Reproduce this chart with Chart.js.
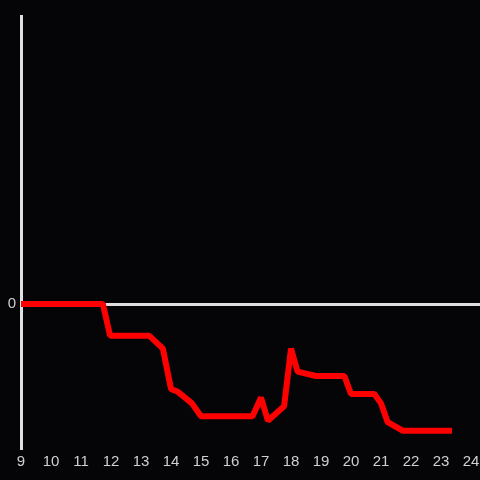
<!DOCTYPE html>
<html>
<head>
<meta charset="utf-8">
<script src="https://cdn.jsdelivr.net/npm/chart.js@4"></script>
<style>
  html, body { margin: 0; padding: 0; background: #050507; }
  #wrap { width: 480px; height: 480px; }
</style>
</head>
<body>
<div id="wrap"><canvas id="chart"></canvas></div>
<script>
// hour of day and level
const hours = [9.1, 11.73, 11.97, 13.27, 13.73, 14.0, 14.23, 14.7, 15.0, 16.72, 17.0, 17.23, 17.77, 18.0, 18.22, 18.83, 19.78, 20.0, 20.78, 21.0, 21.22, 21.72, 23.27];
const levels = [0, 0, -0.22, -0.22, -0.31, -0.59, -0.61, -0.69, -0.78, -0.78, -0.65, -0.81, -0.71, -0.31, -0.47, -0.5, -0.5, -0.625, -0.625, -0.69, -0.82, -0.88, -0.88];
const xTicks = [9, 10, 11, 12, 13, 14, 15, 16, 17, 18, 19, 20, 21, 22, 23, 24];
const yTicks = [0];

const points = hours.map((h, i) => ({ x: h, y: levels[i] }));

new Chart(document.getElementById("chart"), {
  type: "line",
  data: {
    datasets: [{
      data: points,
      borderColor: "#ff0000",
      borderWidth: 6,
      borderJoinStyle: "bevel",
      borderCapStyle: "square",
      pointRadius: 0,
      tension: 0,
      fill: false
    }]
  },
  options: {
    responsive: true,
    maintainAspectRatio: false,
    animation: false,
    layout: { padding: { top: 16, right: 0, left: 0, bottom: 0 } },
    plugins: { legend: { display: false }, tooltip: { enabled: false } },
    scales: {
      x: {
        type: "linear",
        min: 9,
        max: 24.3,
        afterBuildTicks: s => { s.ticks = xTicks.map(v => ({ value: v })); },
        ticks: {
          autoSkip: false,
          maxRotation: 0,
          padding: 5,
          color: "#d0d0d0",
          font: { family: "Liberation Sans", size: 15 }
        },
        grid: { display: false, drawTicks: false },
        border: { display: false },
        afterFit: s => { s.height = 32; s.paddingLeft = 0; s.paddingRight = 0; }
      },
      y: {
        min: -1,
        max: 2,
        afterBuildTicks: s => { s.ticks = yTicks.map(v => ({ value: v })); },
        ticks: {
          color: "#d0d0d0",
          padding: 5,
          font: { family: "Liberation Sans", size: 15 }
        },
        grid: { color: "#e0e0e0", lineWidth: 3, drawTicks: false },
        border: { display: true, color: "#e0e0e0", width: 3 },
        afterFit: s => { s.width = 21; s.paddingTop = 0; s.paddingBottom = 0; }
      }
    }
  }
});
</script>
</body>
</html>
